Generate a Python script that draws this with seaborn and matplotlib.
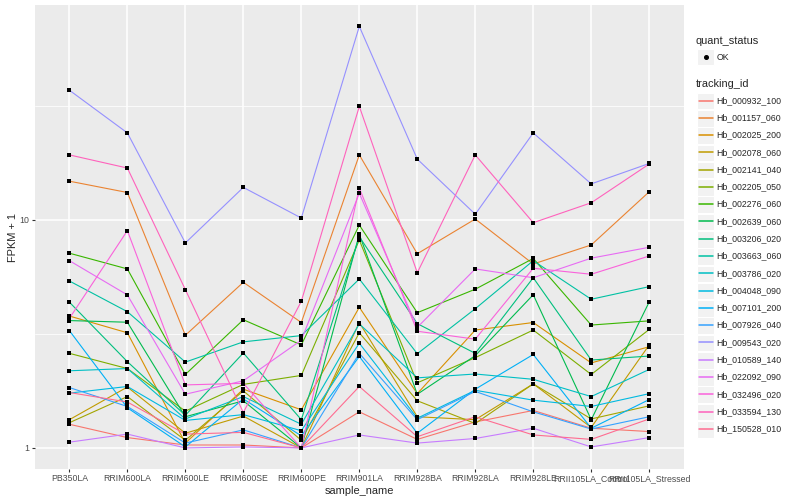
import numpy as np
import pandas as pd
import matplotlib
matplotlib.use("Agg")
import matplotlib.pyplot as plt
import seaborn as sns
from matplotlib.lines import Line2D
from matplotlib.patches import Rectangle

# samples on the x axis
samples = ["PB350LA", "RRIM600LA", "RRIM600LE", "RRIM600SE", "RRIM600PE",
           "RRIM901LA", "RRIM928BA", "RRIM928LA", "RRIM928LE",
           "RRII105LA_Control", "RRII105LA_Stressed"]

tracking_ids = ["Hb_000932_100", "Hb_001157_060", "Hb_002025_200", "Hb_002078_060",
                "Hb_002141_040", "Hb_002205_050", "Hb_002276_060", "Hb_002639_060",
                "Hb_003206_020", "Hb_003663_060", "Hb_003786_020", "Hb_004048_090",
                "Hb_007101_200", "Hb_007926_040", "Hb_009543_020", "Hb_010589_140",
                "Hb_022092_090", "Hb_032496_020", "Hb_033594_130", "Hb_150528_010"]

# FPKM + 1 (one list per gene, in sample order)
hb_000932_100 = [1.27, 1.11, 1.03, 1.03, 1.00, 1.44, 1.09, 1.30, 1.46, 1.22, 1.18]
hb_001157_060 = [14.8, 13.2, 3.12, 5.33, 3.55, 19.3, 7.11, 10.1, 6.41, 7.77, 13.3]
hb_002025_200 = [3.79, 3.20, 1.05, 1.81, 1.47, 4.14, 1.73, 3.29, 3.55, 2.36, 2.78]
hb_002078_060 = [1.33, 1.85, 1.16, 1.38, 1.00, 3.55, 1.37, 1.33, 1.91, 1.23, 2.83]
hb_002141_040 = [1.29, 1.68, 1.08, 1.78, 1.08, 3.20, 1.61, 1.28, 1.91, 1.34, 1.53]
hb_002205_050 = [2.60, 2.23, 1.45, 1.90, 2.08, 8.17, 1.93, 2.49, 3.29, 2.10, 3.31]
hb_002276_060 = [7.15, 6.10, 2.10, 3.65, 2.83, 9.50, 3.92, 4.97, 6.78, 3.46, 3.61]
hb_002639_060 = [3.62, 3.56, 1.37, 1.61, 1.00, 8.65, 1.72, 2.54, 4.70, 1.33, 4.37]
hb_003206_020 = [4.36, 2.39, 1.39, 2.61, 1.33, 8.45, 3.51, 2.60, 5.58, 2.43, 2.53]
hb_003663_060 = [5.40, 3.96, 2.38, 2.92, 3.11, 5.51, 2.59, 4.08, 6.63, 4.49, 5.10]
hb_003786_020 = [2.18, 2.23, 1.34, 1.68, 1.27, 3.50, 2.03, 2.11, 2.00, 1.68, 2.21]
hb_004048_090 = [1.74, 1.86, 1.32, 1.40, 1.19, 2.88, 1.35, 1.79, 1.62, 1.52, 1.73]
hb_007101_200 = [3.27, 1.50, 1.01, 1.64, 1.13, 2.52, 1.16, 1.81, 2.57, 1.22, 1.63]
hb_007926_040 = [1.84, 1.52, 1.05, 1.20, 1.00, 2.60, 1.33, 1.77, 1.44, 1.21, 1.37]
hb_009543_020 = [37.1, 24.1, 7.93, 13.9, 10.2, 70.7, 18.5, 10.6, 24.1, 14.4, 17.7]
hb_010589_140 = [1.06, 1.15, 1.00, 1.01, 1.00, 1.14, 1.05, 1.10, 1.22, 1.01, 1.11]
hb_022092_090 = [6.63, 4.69, 1.72, 1.97, 2.97, 13.1, 3.38, 6.10, 5.58, 6.80, 7.59]
hb_032496_020 = [3.70, 8.98, 1.89, 1.92, 1.00, 13.8, 3.25, 3.00, 6.14, 5.78, 6.95]
hb_033594_130 = [19.3, 16.9, 4.95, 1.43, 4.40, 31.5, 5.87, 19.3, 9.73, 11.9, 17.6]
hb_150528_010 = [1.75, 1.59, 1.15, 1.17, 1.00, 1.86, 1.12, 1.37, 1.14, 1.09, 1.34]

series = [hb_000932_100, hb_001157_060, hb_002025_200, hb_002078_060, hb_002141_040,
          hb_002205_050, hb_002276_060, hb_002639_060, hb_003206_020, hb_003663_060,
          hb_003786_020, hb_004048_090, hb_007101_200, hb_007926_040, hb_009543_020,
          hb_010589_140, hb_022092_090, hb_032496_020, hb_033594_130, hb_150528_010]

# ggplot2 default hue palette for 20 levels
colors = ["#F8766D", "#EA8331", "#D89000", "#C09B00", "#A3A500", "#7CAE00", "#39B600",
          "#00BB4E", "#00BF7D", "#00C1A3", "#00BFC4", "#00BAE0", "#00B0F6", "#35A2FF",
          "#9590FF", "#C77CFF", "#E76BF3", "#FA62DB", "#FF62BC", "#FF6C91"]

rows = []
for tid, vals in zip(tracking_ids, series):
    for s, v in zip(samples, vals):
        rows.append({"tracking_id": tid, "sample_name": s, "fpkm": v, "quant_status": "OK"})
df = pd.DataFrame(rows)

sns.set_theme(style="darkgrid", rc={"axes.facecolor": "#EBEBEB", "grid.color": "white"})
plt.rcParams["font.family"] = ["Liberation Sans", "DejaVu Sans"]

W, H = 800, 500
fig = plt.figure(figsize=(8, 5), dpi=100)
fig.patch.set_facecolor("white")
ax = fig.add_axes([34.6 / W, 1 - 469 / H, (684 - 34.6) / W, (469 - 5.3) / H])

sns.lineplot(data=df, x="sample_name", y="fpkm", hue="tracking_id", hue_order=tracking_ids,
             palette=colors, sort=False, errorbar=None, lw=0.8, legend=False, ax=ax)
sns.scatterplot(data=df, x="sample_name", y="fpkm", color="black", s=11, marker="s",
                linewidth=0, legend=False, ax=ax, zorder=3)

ax.set_yscale("log")
lo, hi = np.log10(df["fpkm"].min()), np.log10(df["fpkm"].max())
pad = 0.05 * (hi - lo)
ax.set_ylim(10 ** (lo - pad), 10 ** (hi + pad))
ax.set_xlim(-0.6, len(samples) - 0.4)

ax.set_yticks([1, 10])
ax.set_yticklabels(["1", "10"])
ax.set_yticks([10 ** 0.5, 10 ** 1.5], minor=True)
ax.yaxis.set_minor_formatter(matplotlib.ticker.NullFormatter())
ax.grid(which="major", color="white", lw=1.1)
ax.grid(which="minor", axis="y", color="white", lw=0.55)
ax.grid(which="minor", axis="x", visible=False)
for sp in ax.spines.values():
    sp.set_visible(False)
ax.tick_params(which="major", length=2.2, width=0.8, color="#333333",
               labelsize=6.3, labelcolor="#4D4D4D", pad=1.5)
ax.tick_params(which="minor", length=0)
ax.tick_params(axis="x", bottom=True)
ax.tick_params(axis="y", left=True)
ax.set_xlabel("sample_name", fontsize=7.9, labelpad=2)
ax.set_ylabel("FPKM + 1", fontsize=7.9, labelpad=1)


# legend, drawn by hand in ggplot style
def fx(x):
    return x / W


def fy(y):
    return 1 - y / H


def key_box(cy):
    fig.patches.append(Rectangle((fx(697), fy(cy + 8.3)), 17 / W, 16.6 / H,
                                 transform=fig.transFigure, facecolor="#F2F2F2",
                                 edgecolor="white", lw=0.8))


fig.text(fx(696), fy(40.7), "quant_status", fontsize=7.9, va="center", ha="left")
key_box(57)
fig.lines.append(Line2D([fx(705.5)], [fy(57)], marker="o", ms=2.6, color="black",
                        transform=fig.transFigure))
fig.text(fx(716.7), fy(57), "OK", fontsize=6.3, va="center", ha="left")

fig.text(fx(696), fy(84.3), "tracking_id", fontsize=7.9, va="center", ha="left")
for i, (tid, c) in enumerate(zip(tracking_ids, colors)):
    cy = 100.5 + 17.28 * i
    key_box(cy + 0.5)
    fig.lines.append(Line2D([fx(698.5), fx(712.5)], [fy(cy), fy(cy)], color=c, lw=1.1,
                            transform=fig.transFigure))
    fig.text(fx(716.7), fy(cy), tid, fontsize=6.3, va="center", ha="left")

fig.savefig("out.png", dpi=100)
